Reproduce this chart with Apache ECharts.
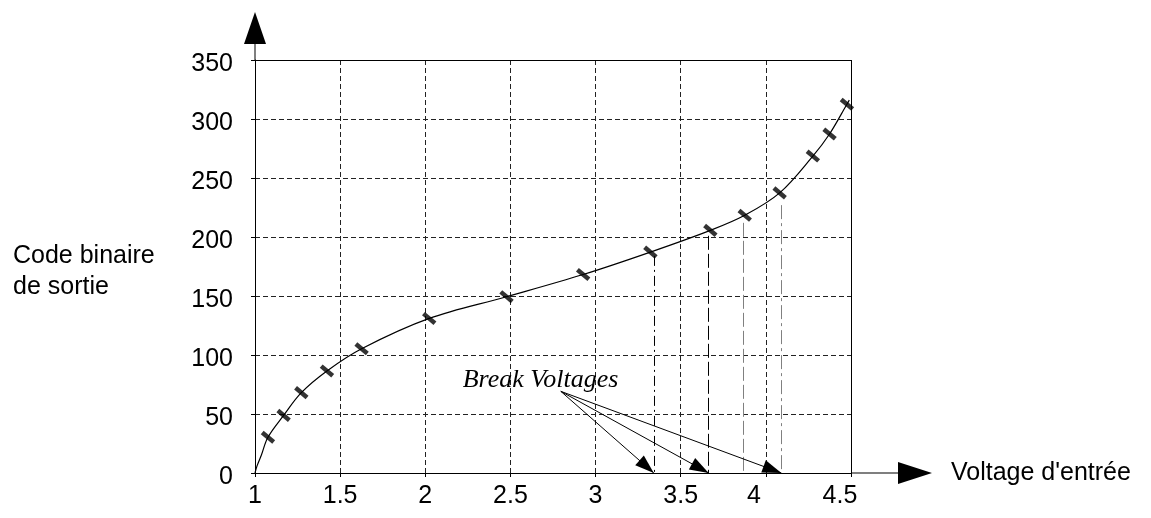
<!DOCTYPE html>
<html>
<head>
<meta charset="utf-8">
<script src="https://cdn.jsdelivr.net/npm/echarts@6/dist/echarts.min.js"></script>
<style>
  html, body { margin: 0; padding: 0; background: #ffffff; }
  #chart { width: 1151px; height: 518px; }
</style>
</head>
<body>
<div id="chart"></div>
<script>
// Transfer curve: input voltage (V) -> output binary code
const inputVoltage = [1.0, 1.012, 1.037, 1.076, 1.168, 1.272, 1.4225, 1.626, 2.023, 2.477, 2.927, 3.322, 3.674, 3.876, 4.081, 4.276, 4.374, 4.476, 4.49];
const outputCode   = [0, 6, 15, 30.3, 48.8, 68.1, 86.5, 105.3, 131.0, 149.4, 168.2, 187.2, 205.6, 218.4, 237.4, 268.6, 287.3, 312.5, 316];

// Sample points marked on the curve
const markVoltage = [1.076, 1.168, 1.272, 1.4225, 1.626, 2.023, 2.477, 2.927, 3.322, 3.674, 3.876, 4.081, 4.276, 4.374, 4.476];
const markCode    = [30.3, 48.8, 68.1, 86.5, 105.3, 131.0, 149.4, 168.2, 187.2, 205.6, 218.4, 237.4, 268.6, 287.3, 312.5];

// Break voltages and the code level each drop line starts from
const breakVoltage = [3.342, 3.664, 3.866, 4.091];
const breakCode    = [184, 201, 212, 227];

// Annotation: label position and arrow origin (data units), arrows to these breaks
const annotationText = 'Break Voltages';
const annotationPos  = [2.677, 78.5];
const arrowOrigin    = [2.796, 69.2];
const arrowTargets   = [0, 1, 3];

// Axis ranges
const xMin = 1, xMax = 4.5, xStep = 0.5;
const yMin = 0, yMax = 350, yStep = 50;

const xAxisName = "Voltage d'entrée";
const yAxisName = 'Code binaire\nde sortie';

// Drop-line styles, one per break voltage
const breakStyles = [
  { color: '#000000', type: [10, 4, 2, 4] },
  { color: '#000000', type: [14, 4] },
  { color: '#808080', type: [14, 4] },
  { color: '#808080', type: [14, 4, 3, 4] }
];

const FONT = 'Liberation Sans, Arial, sans-serif';
const gridLine = { show: true, lineStyle: { color: '#222222', type: [5, 3], width: 1 } };

const curveData = inputVoltage.map((v, i) => [v, outputCode[i]]);
const markData = markVoltage.map((v, i) => [v, markCode[i]]);

const dropLines = breakVoltage.map((v, i) => [
  { coord: [v, breakCode[i]], lineStyle: { color: breakStyles[i].color, type: breakStyles[i].type, width: 1 } },
  { coord: [v, 0] }
]);

// Arrow heads: filled triangles whose tip sits on the axis
const arrowLines = arrowTargets.map(i => [
  { coord: arrowOrigin, symbol: 'none' },
  { coord: [breakVoltage[i], 0], symbol: 'triangle', symbolSize: [13, 19], symbolOffset: [0, 9.5] }
]);

// The last two voltage labels sit a little left of their ticks
function xLabel(v) {
  if (v === 4) return '{shiftL|4}';
  if (v === 4.5) return '{shiftM|4.5}';
  return String(v);
}

const chart = echarts.init(document.getElementById('chart'), null, { renderer: 'canvas' });

chart.setOption({
  animation: false,
  backgroundColor: '#ffffff',
  textStyle: { fontFamily: FONT, color: '#000000' },
  grid: { left: 255, right: 300, top: 60, bottom: 45, containLabel: false },
  xAxis: {
    type: 'value',
    min: xMin, max: xMax, interval: xStep,
    name: xAxisName,
    nameLocation: 'end',
    nameGap: 100,
    nameTextStyle: { fontSize: 25, color: '#000000', fontFamily: FONT },
    axisLine: {
      show: true,
      onZero: false,
      lineStyle: { color: '#000000', width: 1 },
      symbol: ['none', 'path://M11,0L22,34L11.5,34L11.5,81L10.5,81L10.5,34L0,34Z'],
      symbolSize: [22, 81],
      symbolOffset: [0, 40.5]
    },
    axisTick: { show: true, length: 4, lineStyle: { color: '#000000' } },
    axisLabel: {
      fontSize: 25, color: '#000000', margin: 11, fontFamily: FONT,
      formatter: xLabel,
      rich: {
        shiftL: { fontSize: 25, fontFamily: FONT, color: '#000000', padding: [0, 24, 0, 0] },
        shiftM: { fontSize: 25, fontFamily: FONT, color: '#000000', padding: [0, 22, 0, 0] }
      }
    },
    splitLine: gridLine
  },
  yAxis: {
    type: 'value',
    min: yMin, max: yMax, interval: yStep,
    name: yAxisName,
    nameLocation: 'middle',
    nameRotate: 0,
    nameGap: 242,
    nameTextStyle: {
      fontSize: 25, color: '#000000', fontFamily: FONT,
      align: 'left', verticalAlign: 'top', lineHeight: 31,
      padding: [-26, 0, 0, 0]
    },
    axisLine: {
      show: true,
      onZero: false,
      lineStyle: { color: '#000000', width: 1 },
      symbol: ['none', 'path://M11,0L22,32L11.5,32L11.5,48L10.5,48L10.5,32L0,32Z'],
      symbolSize: [22, 48],
      symbolOffset: [0, 24]
    },
    axisTick: { show: true, length: 4, lineStyle: { color: '#000000' } },
    axisLabel: {
      fontSize: 25, color: '#000000', margin: 22, fontFamily: FONT,
      verticalAlign: 'top', padding: [-8, 0, 0, 0]
    },
    splitLine: gridLine
  },
  series: [
    {
      name: 'curve',
      type: 'line',
      data: curveData,
      smooth: 0.35,
      showSymbol: false,
      symbol: 'none',
      lineStyle: { color: '#000000', width: 1.2 },
      silent: true,
      z: 3,
      markLine: {
        silent: true,
        symbol: ['none', 'none'],
        label: { show: false },
        emphasis: { disabled: true },
        data: [
          { yAxis: yMax, lineStyle: { color: '#000000', type: 'solid', width: 1 } },
          { xAxis: xMax, lineStyle: { color: '#000000', type: 'solid', width: 1 } }
        ].concat(dropLines)
      }
    },
    {
      name: 'marks',
      type: 'scatter',
      data: markData,
      symbol: 'rect',
      symbolSize: [15, 4.5],
      symbolRotate: -40,
      itemStyle: { color: '#000000' },
      silent: true,
      z: 5,
      markLine: {
        silent: true,
        symbol: ['none', 'triangle'],
        symbolSize: 16,
        label: { show: false },
        emphasis: { disabled: true },
        lineStyle: { color: '#000000', type: 'solid', width: 1 },
        itemStyle: { color: '#000000' },
        data: arrowLines
      },
      markPoint: {
        silent: true,
        symbol: 'circle',
        symbolSize: 1,
        itemStyle: { color: 'rgba(0,0,0,0)' },
        label: {
          show: true,
          position: 'inside',
          formatter: annotationText,
          fontFamily: 'Liberation Serif, Times New Roman, serif',
          fontStyle: 'italic',
          fontSize: 26,
          color: '#000000'
        },
        emphasis: { disabled: true },
        data: [{ coord: annotationPos, value: annotationText }]
      }
    }
  ]
});
</script>
</body>
</html>
